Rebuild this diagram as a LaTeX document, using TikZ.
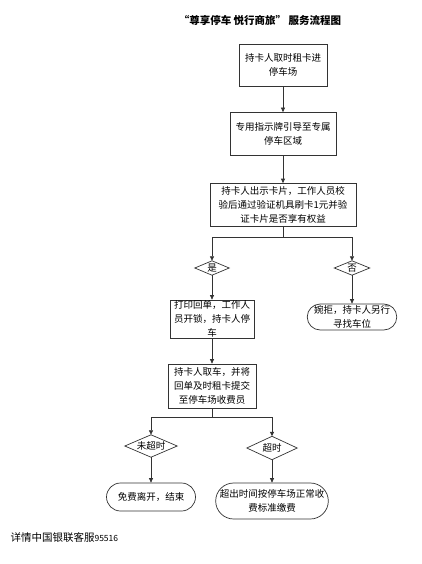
\documentclass[tikz,border=0pt]{standalone}
\usepackage{fontspec}
\setmainfont{Noto Sans CJK SC}
\usetikzlibrary{arrows.meta,shapes.misc}
\tikzset{
  ln/.style={draw=black!80, line width=0.7pt},
  arr/.style={ln, -{Triangle[length=4.5pt,width=4pt]}},
  boxn/.style={ln, rectangle, align=center, inner sep=0pt, font=\fontsize{9.5}{14}\selectfont},
  pill/.style={ln, rounded rectangle, align=center, inner sep=0pt, font=\fontsize{9.5}{14}\selectfont},
  dmd/.style={rectangle, inner sep=0pt, font=\fontsize{9.5}{12}\selectfont},
}
\begin{document}
\begin{tikzpicture}[x=1pt,y=-1pt]
\useasboundingbox[fill=white] (0,0) rectangle (421,564);
\node[font=\fontsize{10.5}{12}\selectfont\bfseries] (title) at (260,20) {“尊享停车 悦行商旅” 服务流程图};

\node[boxn, minimum width=88pt, minimum height=42pt] (b1) at (283,65) {持卡人取时租卡进\\停车场};
\node[boxn, minimum width=106pt, minimum height=43pt] (b2) at (283,134) {专用指示牌引导至专属\\停车区域};
\node[boxn, minimum width=146pt, minimum height=43pt] (b3) at (283,205) {持卡人出示卡片，工作人员校\\验后通过验证机具刷卡1元并验\\证卡片是否享有权益};

\node[dmd, minimum width=34pt, minimum height=14pt] (dy) at (212,268) {是};
\node[dmd, minimum width=35pt, minimum height=14pt] (dn) at (352,268) {否};
\foreach \d in {dy,dn}{\draw[ln] (\d.north) -- (\d.east) -- (\d.south) -- (\d.west) -- cycle;}

\node[boxn, minimum width=84pt, minimum height=38pt] (b4) at (212,319) {打印回单，工作人\\员开锁，持卡人停\\车};
\node[pill, minimum width=89pt, minimum height=26pt] (p1) at (352,317) {婉拒，持卡人另行\\寻找车位};

\node[boxn, minimum width=88pt, minimum height=44pt] (b5) at (212,386) {持卡人取车，并将\\回单及时租卡提交\\至停车场收费员};

\node[dmd, minimum width=52pt, minimum height=22pt] (d1) at (151,446) {未超时};
\node[dmd, minimum width=50pt, minimum height=23pt] (d2) at (272,448) {超时};
\foreach \d in {d1,d2}{\draw[ln] (\d.north) -- (\d.east) -- (\d.south) -- (\d.west) -- cycle;}

\node[pill, minimum width=89pt, minimum height=28pt] (p2) at (151,497) {免费离开，结束};
\node[pill, minimum width=112pt, minimum height=36pt] (p3) at (272,501) {超出时间按停车场正常收\\费标准缴费};

\node[anchor=west, font=\fontsize{10.5}{12}\selectfont] (foot) at (7,537) {详情中国银联客服{\fontsize{8.5}{10}\selectfont 95516}};

\draw[arr] (b1) -- (b2);
\draw[arr] (b2) -- (b3);
\coordinate (j1) at (b3.south |- 0,237);
\draw[ln] (b3.south) -- (j1);
\draw[arr] (j1) -| (dy.north);
\draw[arr] (j1) -| (dn.north);
\draw[arr] (dy.south) -- (b4.north);
\draw[arr] (dn.south) -- (p1.north);
\draw[arr] (b4) -- (b5);
\coordinate (j2) at (b5.south |- 0,417);
\draw[ln] (b5.south) -- (j2);
\draw[arr] (j2) -| (d1.north);
\draw[arr] (j2) -| (d2.north);
\draw[arr] (d1.south) -- (p2.north);
\draw[arr] (d2.south) -- (p3.north);
\end{tikzpicture}
\end{document}
